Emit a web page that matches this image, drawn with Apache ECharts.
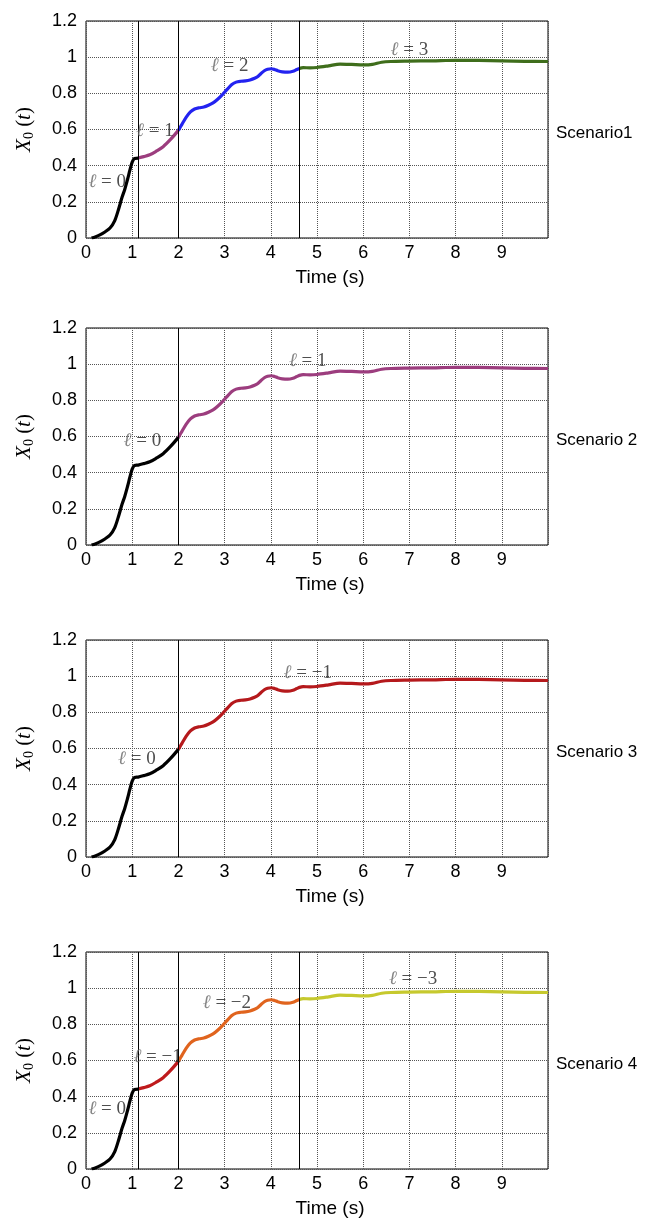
<!DOCTYPE html>
<html>
<head>
<meta charset="utf-8">
<script src="https://cdn.jsdelivr.net/npm/echarts@6/dist/echarts.min.js"></script>
<style>
  html, body { margin: 0; background: #fff; }
  #main { width: 647px; height: 1224px; }
</style>
</head>
<body>
<div id="main"></div>
<script>
// X0(t) response, same curve in every scenario
const time = [0.12, 0.2, 0.3, 0.4, 0.52, 0.62, 0.7, 0.78, 0.84, 0.9, 0.95, 1.0, 1.05, 1.13, 1.25, 1.38, 1.52, 1.67, 1.83, 2.0,
  2.08, 2.17, 2.26, 2.35, 2.45, 2.55, 2.65, 2.75, 2.85, 2.96, 3.05, 3.15, 3.25, 3.35, 3.45, 3.55, 3.65, 3.72, 3.79, 3.86,
  3.93, 4.01, 4.08, 4.15, 4.25, 4.37, 4.48, 4.55, 4.62, 4.7, 4.85, 5.0, 5.25, 5.5, 5.75, 6.0, 6.2, 6.4, 6.6, 7.0,
  7.5, 8.0, 8.5, 9.0, 9.5, 10.0]
const x0 = [0, 0.006, 0.017, 0.032, 0.055, 0.095, 0.155, 0.225, 0.27, 0.325, 0.375, 0.42, 0.44, 0.442, 0.45, 0.46, 0.48, 0.505, 0.545, 0.595,
  0.63, 0.668, 0.697, 0.713, 0.72, 0.724, 0.734, 0.747, 0.767, 0.795, 0.82, 0.847, 0.862, 0.867, 0.869, 0.874, 0.883, 0.893, 0.91, 0.925,
  0.933, 0.936, 0.932, 0.925, 0.919, 0.917, 0.922, 0.93, 0.938, 0.942, 0.941, 0.943, 0.952, 0.962, 0.96, 0.957, 0.96, 0.972, 0.976, 0.978,
  0.98, 0.983, 0.982, 0.98, 0.977, 0.976]

const scenarioNames = ['Scenario1', 'Scenario 2', 'Scenario 3', 'Scenario 4']
const scenarioBreaks = [[1.13, 2, 4.62], [2], [2], [1.13, 2, 4.62]]
const scenarioColors = [
  ['#000000', '#9c3d7e', '#2323f0', '#3f6e1c'],
  ['#000000', '#9c3d7e'],
  ['#000000', '#b5191c'],
  ['#000000', '#bf1a1c', '#e0641e', '#c6c92e']
]
const scenarioLevels = [['0', '1', '2', '3'], ['0', '1'], ['0', '−1'], ['0', '−1', '−2', '−3']]
const levelTime = [[0.46, 1.49, 3.11, 7.0], [1.22, 4.8], [1.1, 4.8], [0.46, 1.55, 3.05, 7.08]]
const levelValue = [[0.31, 0.59, 0.95, 1.04], [0.574, 1.016], [0.54, 1.016], [0.33, 0.617, 0.918, 1.05]]

const xTickLabels = ['0', '1', '2', '3', '4', '5', '6', '7', '8', '9']

const gridTops = [21, 328, 640, 952]
const gridH = 217
const sans = 'Liberation Sans, Arial, sans-serif'
const serif = 'Liberation Serif, Times New Roman, serif'

const grids = [], xAxes = [], yAxes = [], series = [], titles = []

gridTops.forEach((top, k) => {
  grids.push({ left: 86, top, width: 462, height: gridH, show: true, borderColor: '#000', borderWidth: 1, backgroundColor: 'transparent' })
  titles.push({
    text: scenarioNames[k], left: 551, top: top + gridH / 2 - 10,
    textStyle: { fontFamily: sans, fontSize: 17, fontWeight: 'normal', color: '#000' }
  })
  xAxes.push({
    gridIndex: k, type: 'value', min: 0, max: 10, interval: 1,
    name: 'Time (s)', nameLocation: 'middle', nameGap: 30,
    nameTextStyle: { fontFamily: sans, fontSize: 19, color: '#000', padding: [0, 0, 0, 26] },
    axisLine: { show: false }, axisTick: { show: false },
    axisLabel: {
      margin: 6, fontFamily: sans, fontSize: 18, color: '#000',
      formatter: v => xTickLabels[Math.round(v)] !== undefined ? xTickLabels[Math.round(v)] : ''
    },
    splitLine: { show: true, lineStyle: { type: 'dotted', color: '#555', width: 1 } }
  })
  yAxes.push({
    gridIndex: k, type: 'value', min: 0, max: 1.2, interval: 0.2,
    name: '{i|X}{s|0}{n| (}{i|t}{n|)}', nameLocation: 'middle', nameGap: 50, nameRotate: 90,
    nameTextStyle: {
      rich: {
        i: { fontFamily: serif, fontStyle: 'italic', fontSize: 21, color: '#000', lineHeight: 24 },
        n: { fontFamily: serif, fontSize: 21, color: '#000', lineHeight: 24 },
        s: { fontFamily: serif, fontSize: 14, color: '#000', lineHeight: 24, verticalAlign: 'bottom', padding: [7, 0, 0, 0] }
      }
    },
    axisLine: { show: false }, axisTick: { show: false },
    axisLabel: {
      margin: 9, fontFamily: sans, fontSize: 18, color: '#000',
      formatter: v => (Math.round(v * 10) / 10).toString()
    },
    splitLine: { show: true, lineStyle: { type: 'dotted', color: '#555', width: 1 } }
  })

  const edges = [0, ...scenarioBreaks[k], 10]
  scenarioColors[k].forEach((c, j) => {
    const a = edges[j], b = edges[j + 1]
    const data = time.map((t, i) => [t, x0[i]]).filter(p => p[0] >= a - 1e-9 && p[0] <= b + 1e-9)
    const s = {
      type: 'line', xAxisIndex: k, yAxisIndex: k, data,
      smooth: 0.3, showSymbol: false, symbol: 'none',
      lineStyle: { color: c, width: 3.2 }, z: 3, silent: true
    }
    if (j === 0) {
      s.markLine = {
        silent: true, symbol: 'none', label: { show: false },
        lineStyle: { color: '#000', width: 1, type: 'solid' },
        data: scenarioBreaks[k].map(v => ({ xAxis: v }))
      }
    }
    series.push(s)
  })

  series.push({
    type: 'scatter', xAxisIndex: k, yAxisIndex: k, symbolSize: 1, itemStyle: { color: 'transparent' }, z: 5, silent: true,
    data: levelTime[k].map((t, j) => ({ value: [t, levelValue[k][j]], name: scenarioLevels[k][j] })),
    label: {
      show: true, position: 'inside',
      formatter: p => '{l|ℓ}{e| = ' + p.name + '}',
      rich: {
        l: { fontFamily: serif, fontStyle: 'italic', fontSize: 19, color: '#666' },
        e: { fontFamily: serif, fontSize: 19, color: '#222' }
      }
    }
  })
})

const chart = echarts.init(document.getElementById('main'), null, { renderer: 'canvas' })
chart.setOption({
  animation: false,
  backgroundColor: '#fff',
  title: titles,
  grid: grids,
  xAxis: xAxes,
  yAxis: yAxes,
  series
})
</script>
</body>
</html>
